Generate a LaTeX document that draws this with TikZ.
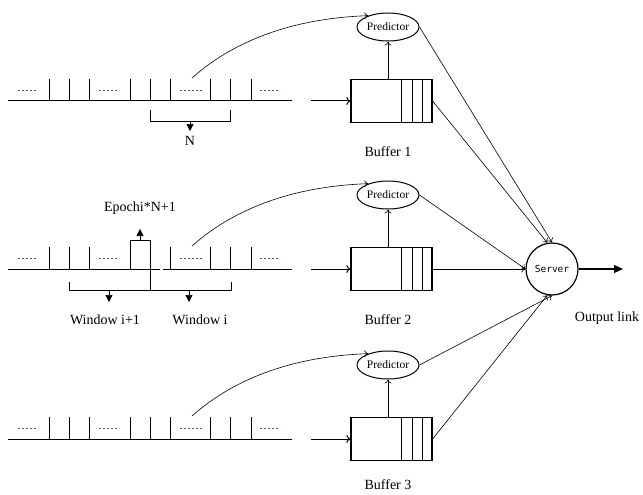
\documentclass[tikz,border=0pt]{standalone}
\usepackage{fontspec}
\setmainfont{Liberation Serif}
\newfontfamily\srvfont{DejaVu Sans Mono}
\usetikzlibrary{shapes.geometric,arrows.meta}
\tikzset{
  tl/.style={line width=1pt},
  tickline/.style={line width=0.8pt},
  dots/.style={gray!70!black, line width=0.7pt, dash pattern=on 2.4pt off 1.6pt},
  conn/.style={line width=0.6pt, -{To[length=4pt,width=7pt]}},
  filltip/.style={line width=0.7pt, -{Triangle[length=7pt,width=7pt]}},
  pred/.style={ellipse, draw, line width=1pt, minimum width=62pt, minimum height=28pt, inner sep=0pt, font=\fontsize{11.5}{12}\selectfont},
  buf/.style={rectangle, draw, line width=1.2pt, minimum width=81pt, minimum height=43pt, inner sep=0pt},
  lbl/.style={font=\fontsize{14}{16}\selectfont, inner sep=0pt},
  srv/.style={circle, draw, line width=1.2pt, minimum size=52pt, inner sep=0pt, font=\srvfont\fontsize{9.5}{10}\selectfont},
}
\begin{document}
\begin{tikzpicture}[x=1pt,y=-1pt]
\useasboundingbox (0,0) rectangle (643,495);
\foreach \r/\y in {1/101,2/269,3/439}{
  % timeline
  \ifnum\r=2
    \draw[tl] (8,\y) -- (160,\y);
    \draw[tl] (162.5,\y) -- (292,\y);
  \else
    \draw[tl] (8,\y) -- (292,\y);
  \fi
  \foreach \x in {49,69,89,130,150,170,210,230,251}{
    \draw[tickline] (\x,\y-22) -- (\x,\y);
  }
  \foreach \a/\b in {18/38,99/117,180/202,260/280}{
    \draw[dots] (\a,\y-11) -- (\b,\y-11);
  }
  % buffer
  \node[buf] (b\r) at (391.5,\y) {};
  \foreach \x in {401,412,422}{
    \draw[line width=0.8pt] (\x,\y-21.5) -- (\x,\y+21.5);
  }
  \coordinate (in\r) at (311,\y);
  \draw[line width=1pt, -{To[length=4pt,width=8pt]}] (in\r) -- (b\r.west);
  % predictor
  \node[pred] (p\r) at (388,\y-74) {Predictor};
  \draw[conn] (b\r.north -| p\r.south) -- (p\r.south);
  \coordinate (c\r) at (192,\y-23);
  \draw[conn] (c\r) .. controls (238,\y-64) and (300,\y-83) .. (p\r.150);
}
\node[lbl] (bl1) at (388,152) {Buffer 1};
\node[lbl] (bl2) at (388,320) {Buffer 2};
\node[lbl] (bl3) at (388,485) {Buffer 3};
% row 1 bracket
\draw[line width=0.7pt] (150,110) -- (150,121) -- (230,121) -- (230,110);
\coordinate (n0) at (190,121);
\node[lbl] (nlab) at (190,141) {N};
\draw[filltip] (n0) -- (190,131);
% row 2 epoch bracket
\draw[tickline] (130,247) -- (130,240) -- (150,240) -- (150,247);
\coordinate (e0) at (140,240);
\coordinate (e1) at (140,229);
\draw[filltip] (e0) -- (e1);
\node[lbl] (elab) at (140,208) {Epochi*N+1};
% window brackets
\draw[line width=0.7pt] (69,282) -- (69,290) -- (231,290) -- (231,282);
\draw[line width=0.7pt] (150,269) -- (150,290);
\coordinate (w1) at (109,290);
\coordinate (w2) at (189,290);
\draw[filltip] (w1) -- (109,302);
\draw[filltip] (w2) -- (189,302);
\node[lbl] (wl1) at (105,320) {Window i+1};
\node[lbl] (wl2) at (200,320) {Window i};
% server
\node[srv] (srv) at (552,269) {Server};
\draw[conn] (p1.east) -- (srv.north);
\draw[conn] (b1.east) -- (srv.100);
\draw[conn] (p2.east) -- (srv.west);
\draw[conn] (b2.east) -- (srv.west);
\draw[conn] (p3.east) -- (srv.south);
\draw[conn] (b3.east) -- (srv.260);
\coordinate (out) at (623,269);
\draw[line width=1.2pt, -{Triangle[length=9pt,width=8pt]}] (srv.east) -- (out);
\node[lbl] (olab) at (607,318) {Output link};
\end{tikzpicture}
\end{document}
